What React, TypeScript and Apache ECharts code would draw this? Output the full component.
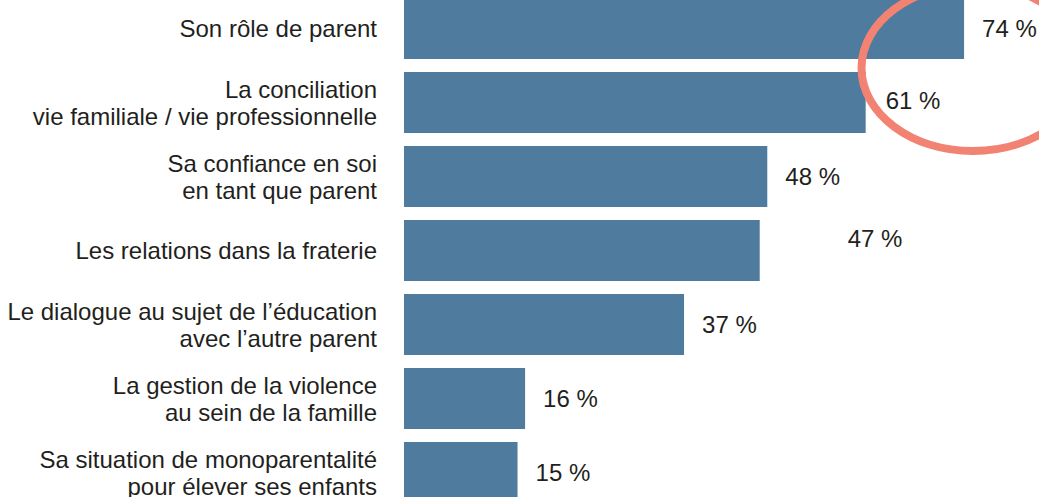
import React, { useEffect, useRef } from "react";
import * as echarts from "echarts";

const categories: string[] = [
  "Son rôle de parent",
  "La conciliation\nvie familiale / vie professionnelle",
  "Sa confiance en soi\nen tant que parent",
  "Les relations dans la fraterie",
  "Le dialogue au sujet de l’éducation\navec l’autre parent",
  "La gestion de la violence\nau sein de la famille",
  "Sa situation de monoparentalité\npour élever ses enfants",
];

const values: number[] = [74, 61, 48, 47, 37, 16, 15];

const FONT = "'Liberation Sans', Arial, Helvetica, sans-serif";
const TEXT = "#231F20";
const BAR = "#4F7B9E";
const RING = "#F28372";

// the chart's div is shifted up so that the first bar can be cut by the page's top edge
const SHIFT = 20;

export default function App() {
  const ref = useRef<HTMLDivElement>(null);

  useEffect(() => {
    if (!ref.current) return;
    const chart = echarts.init(ref.current, null, { renderer: "svg" });

    const data = values.map((v, i) => {
      if (i === 3) {
        return { value: v, label: { offset: [70, -12] } };
      }
      if (i === 1) {
        return { value: v, label: { offset: [2, -2] } };
      }
      return v;
    });

    chart.setOption({
      animation: false,
      backgroundColor: "#ffffff",
      grid: { left: 404, right: 0, top: SHIFT - 8.5, height: 518 },
      xAxis: {
        type: "value",
        min: 0,
        max: 83.9,
        show: false,
      },
      yAxis: {
        type: "category",
        data: categories,
        inverse: true,
        axisLine: { show: false },
        axisTick: { show: false },
        splitLine: { show: false },
        axisLabel: {
          fontFamily: FONT,
          fontSize: 24,
          color: TEXT,
          lineHeight: 27,
          margin: 27,
          align: "right",
          verticalAlign: "middle",
          padding: [0, 0, 6, 0],
        },
      },
      series: [
        {
          type: "bar",
          data,
          barWidth: 61,
          itemStyle: { color: BAR },
          label: {
            show: true,
            position: "right",
            distance: 18,
            formatter: "{c} %",
            fontFamily: FONT,
            fontSize: 24,
            color: TEXT,
          },
        },
      ],
      graphic: [
        {
          type: "ellipse",
          shape: { cx: 973, cy: 68 + SHIFT, rx: 111.5, ry: 83 },
          style: { fill: "none", stroke: RING, lineWidth: 8 },
          z: 100,
        },
      ],
    });

    return () => {
      chart.dispose();
    };
  }, []);

  return (
    <div
      ref={ref}
      style={{ position: "fixed", left: 0, top: -SHIFT, width: 1039, height: 497 + 2 * SHIFT }}
    />
  );
}
